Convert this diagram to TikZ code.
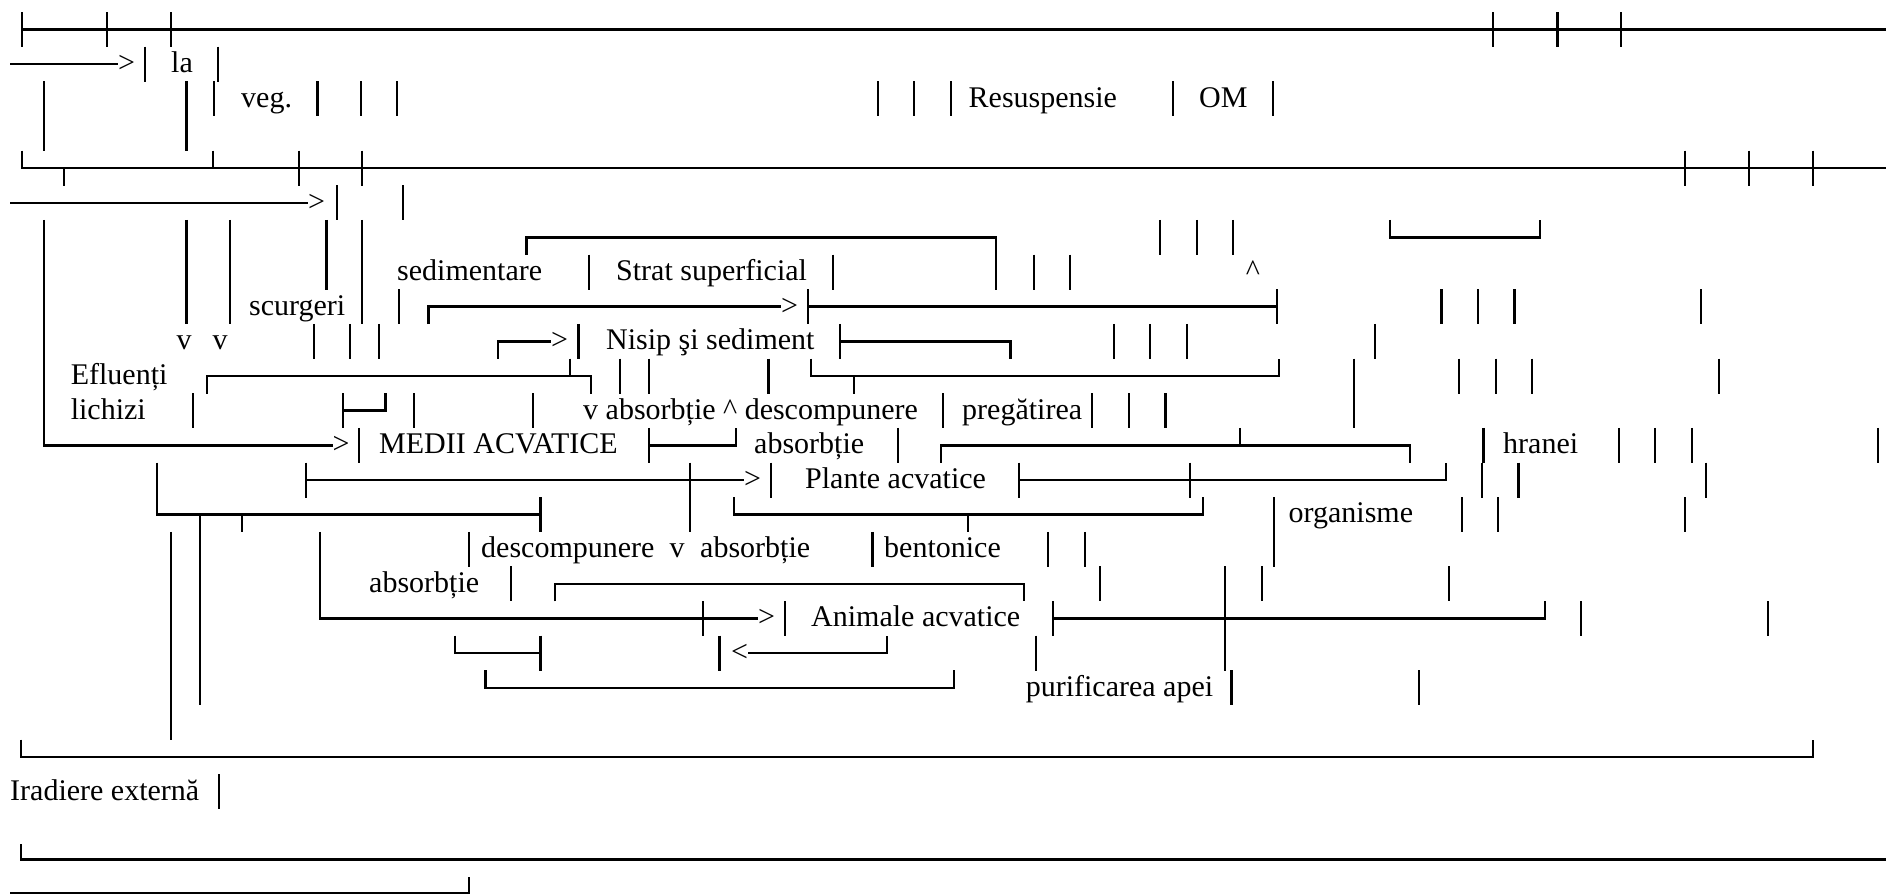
\documentclass[tikz,border=0pt]{standalone}
\usepackage{fontspec}
\setmainfont{Liberation Serif}
\newcommand\myV[3]{\draw[ln] (#1,#2) -- (#1,#3);}
\begin{document}
\begin{tikzpicture}[x=1pt,y=-1pt,
  ln/.style={line width=2.5pt,line cap=butt,line join=miter},
  tx/.style={anchor=base west,inner sep=0pt,font=\fontsize{30}{36}\selectfont},
  tc/.style={anchor=base,inner sep=0pt,font=\fontsize{30}{36}\selectfont}]
\useasboundingbox (0,0) rectangle (1886,895);
% ---------- row 0
\draw[ln] (22,29.5) -- (1886,29.5);
\foreach \x in {22,107,171,1493,1557.5,1621} {\myV{\x}{12}{47}}
% ---------- row 1
\draw[ln] (10,64.2) -- (118,64.2);
\node[tx] (ar1) at (118,72.5) {>};
\myV{145}{46.7}{81.7}
\node[tx] (la) at (171,72.5) {la};
\myV{218}{46.7}{81.7}
% ---------- row 2-3
\myV{44}{81.3}{151}
\myV{186.5}{81.3}{151}
\myV{214}{81.3}{116.3}
\node[tx] (veg) at (241,107.1) {veg.};
\foreach \x in {317.5,361,397,878,914,951,1173,1273} {\myV{\x}{81.3}{116.3}}
\node[tx] (resus) at (968.5,107.1) {Resuspensie};
\node[tx] (om) at (1199,107.1) {OM};
% ---------- row 4
\draw[ln] (22,150.6) -- (22,168.1) -- (1886,168.1);
\myV{64}{168.1}{185.6}
\myV{213}{150.6}{168.1}
\foreach \x in {299,362,1685,1749,1813} {\myV{\x}{150.6}{185.6}}
% ---------- row 5
\draw[ln] (10,202.8) -- (308,202.8);
\node[tx] (ar5) at (308,211.1) {>};
\myV{337}{185.3}{220.3}
\myV{403}{185.3}{220.3}
% ---------- rows 6-8 long bars
\draw[ln] (44,219.9) -- (44,445.3) -- (332.5,445.3);
\myV{186.5}{219.9}{324.2}
\myV{230}{219.9}{324.2}
\myV{326.5}{219.9}{289.6}
\myV{362}{219.9}{324.2}
\draw[ln] (526.5,254.9) -- (526.5,237.4) -- (996,237.4) -- (996,289.6);
\foreach \x in {1160,1197,1233} {\myV{\x}{219.9}{254.9}}
\draw[ln] (1390,219.9) -- (1390,237.4) -- (1540,237.4) -- (1540,219.9);
% ---------- row 7
\node[tx] (sedim) at (397,280.4) {sedimentare};
\myV{589}{254.6}{289.6}
\node[tx] (strat) at (616,280.4) {Strat superficial};
\foreach \x in {833,1034,1070} {\myV{\x}{254.6}{289.6}}
\node[tc] (up7) at (1253,280.4) {\^{}};
% ---------- row 8
\node[tx] (scurg) at (249,315) {scurgeri};
\myV{399}{289.2}{324.2}
\draw[ln] (428.5,324.2) -- (428.5,306.7) -- (781,306.7);
\node[tx] (ar8) at (781,315) {>};
\myV{808}{289.2}{324.2}
\draw[ln] (808,306.7) -- (1277,306.7);
\myV{1277}{289.2}{324.2}
\foreach \x in {1441.5,1478,1514.6,1701} {\myV{\x}{289.2}{324.2}}
% ---------- row 9
\node[tc] (v9a) at (184,349.7) {v};
\node[tc] (v9b) at (220,349.7) {v};
\foreach \x in {314,350,379,578.5,1114,1150,1187,1375} {\myV{\x}{323.9}{358.9}}
\draw[ln] (498,358.9) -- (498,341.4) -- (551,341.4);
\node[tx] (ar9) at (551,349.7) {>};
\node[tx] (nisip) at (606,349.7) {Nisip şi sediment};
\myV{840}{323.9}{358.9}
\draw[ln] (840,341.4) -- (1010.5,341.4) -- (1010.5,358.9);
% ---------- row 10
\node[tx] (eflu) at (70.6,384.3) {Efluenți};
\draw[ln] (207,393.5) -- (207,376) -- (591,376) -- (591,393.5);
\myV{570}{358.5}{376}
\foreach \x in {620,649,768.5,1459,1496,1532,1719} {\myV{\x}{358.5}{393.5}}
\draw[ln] (811,358.5) -- (811,376) -- (1279,376) -- (1279,358.5);
\myV{854}{376}{393.5}
\myV{1354}{358.5}{428.2}
% ---------- row 11
\node[tx] (lich) at (70.6,419) {lichizi};
\foreach \x in {193,414,533,943,1092,1129,1165.5} {\myV{\x}{393.2}{428.2}}
\myV{343}{393.2}{428.2}
\draw[ln] (343,410.7) -- (385.6,410.7) -- (385.6,393.2);
\node[tx] (absdesc) at (583,419) {v absorbție \^{} descompunere};
\node[tx] (pregat) at (962,419) {pregătirea};
% ---------- row 12
\node[tx] (ar12) at (332.5,453.6) {>};
\myV{359}{427.8}{462.8}
\node[tx] (medii) at (379,453.6) {MEDII ACVATICE};
\myV{649}{427.8}{462.8}
\draw[ln] (649,445.3) -- (736,445.3) -- (736,427.8);
\node[tx] (abs12) at (754,453.6) {absorbție};
\myV{898}{427.8}{462.8}
\draw[ln] (941,462.8) -- (941,445.3) -- (1410,445.3) -- (1410,462.8);
\myV{1240}{427.8}{445.3}
\node[tx] (hranei) at (1503,453.6) {hranei};
\foreach \x in {1483.7,1619,1655,1692,1878} {\myV{\x}{427.8}{462.8}}
% ---------- row 13
\draw[ln] (157,462.5) -- (157,514.6) -- (540.6,514.6);
\myV{540.6}{497.1}{532.1}
\myV{306}{462.5}{497.5}
\draw[ln] (306,480) -- (744,480);
\node[tx] (ar13) at (744,488.3) {>};
\myV{690}{462.5}{532.1}
\myV{771}{462.5}{497.5}
\node[tx] (plante) at (805,488.3) {Plante acvatice};
\myV{1019}{462.5}{497.5}
\draw[ln] (1019,480) -- (1446,480) -- (1446,462.5);
\foreach \x in {1190,1482,1518.5,1706} {\myV{\x}{462.5}{497.5}}
% ---------- row 14
\myV{200}{514.6}{705.4}
\myV{242}{514.6}{532.1}
\draw[ln] (734,497.1) -- (734,514.6) -- (1203,514.6) -- (1203,497.1);
\myV{968}{514.6}{532.1}
\myV{1274}{497.1}{566.8}
\node[tx] (organ) at (1288.5,522.9) {organisme};
\foreach \x in {1462,1498,1685} {\myV{\x}{497.1}{532.1}}
% ---------- row 15
\myV{171}{531.8}{740}
\draw[ln] (320,531.8) -- (320,618.6) -- (758,618.6);
\myV{469}{531.8}{566.8}
\node[tx] (desc15) at (481,557.6) {descompunere};
\node[tc] (v15) at (677,557.6) {v};
\node[tx] (abs15) at (700,557.6) {absorbție};
\foreach \x in {872.6,1048,1085} {\myV{\x}{531.8}{566.8}}
\node[tx] (bent) at (884,557.6) {bentonice};
% ---------- row 16
\node[tx] (abs16) at (369,592.2) {absorbție};
\foreach \x in {511,1100,1262,1449} {\myV{\x}{566.4}{601.4}}
\draw[ln] (555,601.4) -- (555,583.9) -- (1024,583.9) -- (1024,601.4);
\myV{1225}{566.4}{670.7}
% ---------- row 17
\myV{703}{601.1}{636.1}
\node[tx] (ar17) at (758,626.9) {>};
\myV{785}{601.1}{636.1}
\node[tx] (anim) at (811,626.9) {Animale acvatice};
\myV{1053}{601.1}{636.1}
\draw[ln] (1053,618.6) -- (1545,618.6) -- (1545,601.1);
\foreach \x in {1581,1768} {\myV{\x}{601.1}{636.1}}
% ---------- row 18
\draw[ln] (455,635.7) -- (455,653.2) -- (540.6,653.2);
\myV{540.6}{635.7}{670.7}
\myV{719.6}{635.7}{670.7}
\node[tx] (lt18) at (731,661.5) {<};
\draw[ln] (748,653.2) -- (887,653.2) -- (887,635.7);
\myV{1036}{635.7}{670.7}
% ---------- row 19
\draw[ln] (485.6,670.4) -- (485.6,687.9) -- (954,687.9) -- (954,670.4);
\node[tx] (purif) at (1025.6,696.2) {purificarea apei};
\myV{1231.6}{670.4}{705.4}
\myV{1419}{670.4}{705.4}
% ---------- row 21
\draw[ln] (21,739.7) -- (21,757.2) -- (1813,757.2) -- (1813,739.7);
% ---------- row 22
\node[tx] (irad) at (10,800.1) {Iradiere externă};
\myV{219}{774.3}{809.3}
% ---------- row 24
\draw[ln] (21,844) -- (21,859.5) -- (1886,859.5);
\draw[ln] (10,893) -- (469,893) -- (469,877);
\end{tikzpicture}
\end{document}
